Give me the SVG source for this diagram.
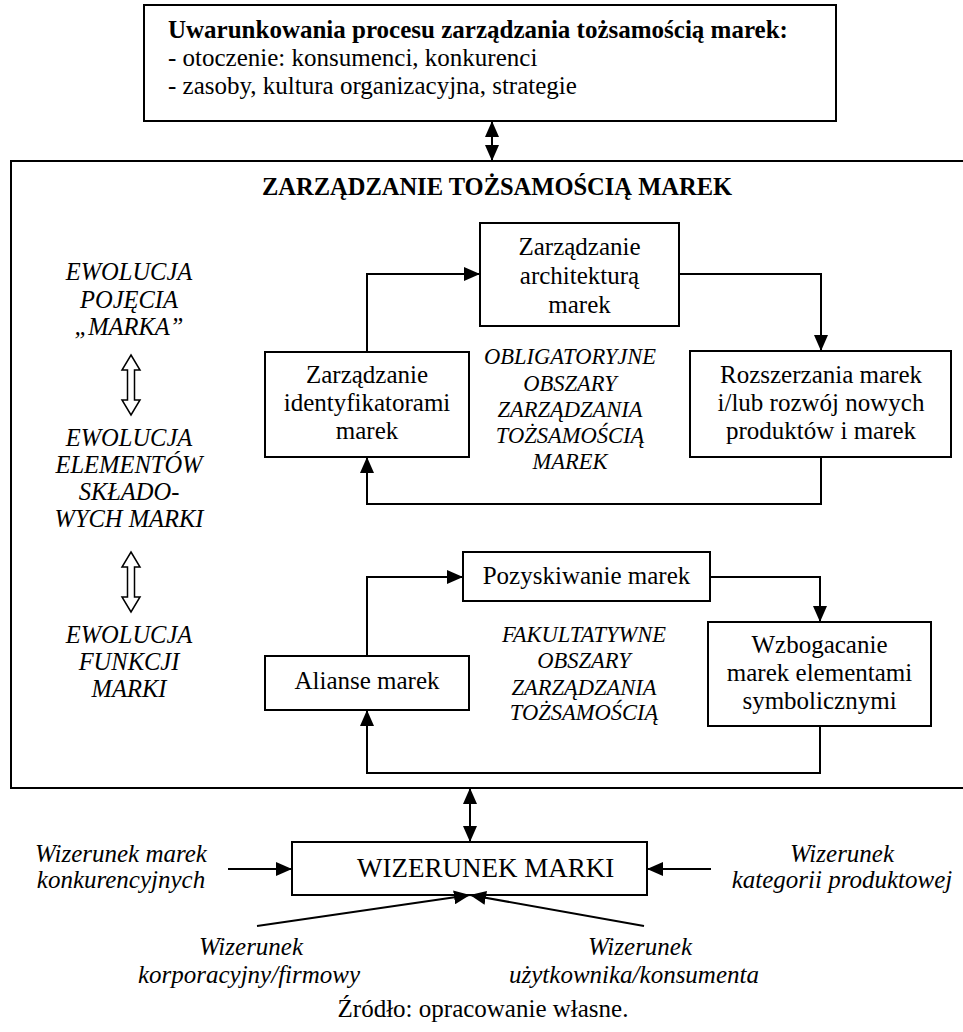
<svg xmlns="http://www.w3.org/2000/svg" width="963" height="1032" viewBox="0 0 963 1032">
<defs>
<style>
.box{fill:#fff;stroke:#000;stroke-width:2}
.ln{fill:none;stroke:#000;stroke-width:2}
.t{font-family:"Liberation Serif","Times New Roman",serif;font-size:25px;fill:#000}
.c{text-anchor:middle}
.b{font-weight:bold}
.i{font-style:italic}
.im{font-family:"Liberation Serif","Times New Roman",serif;font-size:22.5px;font-style:italic;fill:#000;text-anchor:middle}
.il{font-family:"Liberation Serif","Times New Roman",serif;font-size:24.5px;font-style:italic;fill:#000;text-anchor:middle}
.open{fill:#fff;stroke:#000;stroke-width:1.5}
</style>
<marker id="ah" viewBox="0 0 16 14" refX="16" refY="7" markerWidth="16" markerHeight="14" orient="auto-start-reverse" markerUnits="userSpaceOnUse">
<path d="M0,0 L16,7 L0,14 Z" fill="#000"/>
</marker>
</defs>
<rect width="963" height="1032" fill="#fff"/>

<g id="uwarunkowania">
<rect class="box" x="144" y="5" width="692" height="116"/>
<text class="t b" x="168" y="38">Uwarunkowania procesu zarządzania tożsamością marek:</text>
<text class="t" x="168" y="66">- otoczenie: konsumenci, konkurenci</text>
<text class="t" x="168" y="94">- zasoby, kultura organizacyjna, strategie</text>
</g>

<g id="zarzadzanie">
<rect class="box" x="11" y="161" width="990" height="627"/>
<text class="t b c" x="497" y="195" style="font-size:24.5px">ZARZĄDZANIE TOŻSAMOŚCIĄ MAREK</text>
</g>

<g id="ewolucja">
<text class="il" x="129" y="280">EWOLUCJA</text>
<text class="il" x="129" y="308">POJĘCIA</text>
<text class="il" x="129" y="335">„MARKA”</text>
<polygon class="open" points="131,355 140,370 134.5,370 134.5,400 140,400 131,415 122,400 127.5,400 127.5,370 122,370"/>
<text class="il" x="129" y="446">EWOLUCJA</text>
<text class="il" x="129" y="473">ELEMENTÓW</text>
<text class="il" x="129" y="500">SKŁADO-</text>
<text class="il" x="129" y="527">WYCH MARKI</text>
<polygon class="open" points="131,552 140,567 134.5,567 134.5,597 140,597 131,612 122,597 127.5,597 127.5,567 122,567"/>
<text class="il" x="129" y="643">EWOLUCJA</text>
<text class="il" x="129" y="670">FUNKCJI</text>
<text class="il" x="129" y="697">MARKI</text>
</g>

<g id="architektura">
<rect class="box" x="480" y="223" width="199" height="103"/>
<text class="t c" x="579.5" y="255">Zarządzanie</text>
<text class="t c" x="579.5" y="284">architekturą</text>
<text class="t c" x="579.5" y="313">marek</text>
</g>

<g id="identyfikatory">
<rect class="box" x="265" y="352" width="204" height="105"/>
<text class="t c" x="367" y="383">Zarządzanie</text>
<text class="t c" x="367" y="411">identyfikatorami</text>
<text class="t c" x="367" y="439">marek</text>
</g>

<g id="rozszerzania">
<rect class="box" x="690" y="351" width="261" height="106"/>
<text class="t c" x="821" y="383">Rozszerzania marek</text>
<text class="t c" x="821" y="411">i/lub rozwój nowych</text>
<text class="t c" x="821" y="439">produktów i marek</text>
</g>

<g id="obligatoryjne">
<text class="im" x="570" y="364">OBLIGATORYJNE</text>
<text class="im" x="570" y="391">OBSZARY</text>
<text class="im" x="570" y="417">ZARZĄDZANIA</text>
<text class="im" x="570" y="443">TOŻSAMOŚCIĄ</text>
<text class="im" x="570" y="469">MAREK</text>
</g>

<g id="pozyskiwanie">
<rect class="box" x="463" y="552" width="247" height="49"/>
<text class="t c" x="586.5" y="584">Pozyskiwanie marek</text>
</g>

<g id="alianse">
<rect class="box" x="265" y="656" width="204" height="54"/>
<text class="t c" x="367" y="689">Alianse marek</text>
</g>

<g id="wzbogacanie">
<rect class="box" x="708" y="622" width="223" height="104"/>
<text class="t c" x="819.5" y="653">Wzbogacanie</text>
<text class="t c" x="819.5" y="681">marek elementami</text>
<text class="t c" x="819.5" y="709">symbolicznymi</text>
</g>

<g id="fakultatywne">
<text class="im" x="584" y="642">FAKULTATYWNE</text>
<text class="im" x="584" y="668">OBSZARY</text>
<text class="im" x="584" y="695">ZARZĄDZANIA</text>
<text class="im" x="584" y="720">TOŻSAMOŚCIĄ</text>
</g>

<g id="wizerunek">
<rect class="box" x="292" y="842" width="355" height="53"/>
<text class="t" x="357" y="877" style="font-size:27px">WIZERUNEK MARKI</text>
</g>

<g id="labels">
<text class="t i c" x="121" y="862">Wizerunek marek</text>
<text class="t i c" x="121" y="888">konkurencyjnych</text>
<text class="t i c" x="842" y="862">Wizerunek</text>
<text class="t i c" x="842" y="888">kategorii produktowej</text>
<text class="t i c" x="251" y="955">Wizerunek</text>
<text class="t i c" x="249" y="983">korporacyjny/firmowy</text>
<text class="t i c" x="640" y="955">Wizerunek</text>
<text class="t i c" x="634" y="983">użytkownika/konsumenta</text>
<text class="t c" x="483" y="1017">Źródło: opracowanie własne.</text>
</g>

<g id="connectors">
<path class="ln" d="M492,121 V161" marker-start="url(#ah)" marker-end="url(#ah)"/>
<path class="ln" d="M367,352 V274 H480" marker-end="url(#ah)"/>
<path class="ln" d="M679,274 H821 V351" marker-end="url(#ah)"/>
<path class="ln" d="M821,457 V504 H367 V457" marker-end="url(#ah)"/>
<path class="ln" d="M367,656 V577 H463" marker-end="url(#ah)"/>
<path class="ln" d="M710,577 H820 V622" marker-end="url(#ah)"/>
<path class="ln" d="M820,726 V773 H367 V710" marker-end="url(#ah)"/>
<path class="ln" d="M470,788 V842" marker-start="url(#ah)" marker-end="url(#ah)"/>
<path class="ln" d="M228,869 H292" marker-end="url(#ah)"/>
<path class="ln" d="M711,869 H647" marker-end="url(#ah)"/>
<path class="ln" d="M257,926 L470,895" marker-end="url(#ah)"/>
<path class="ln" d="M644,926 L470,895" marker-end="url(#ah)"/>
</g>
</svg>
